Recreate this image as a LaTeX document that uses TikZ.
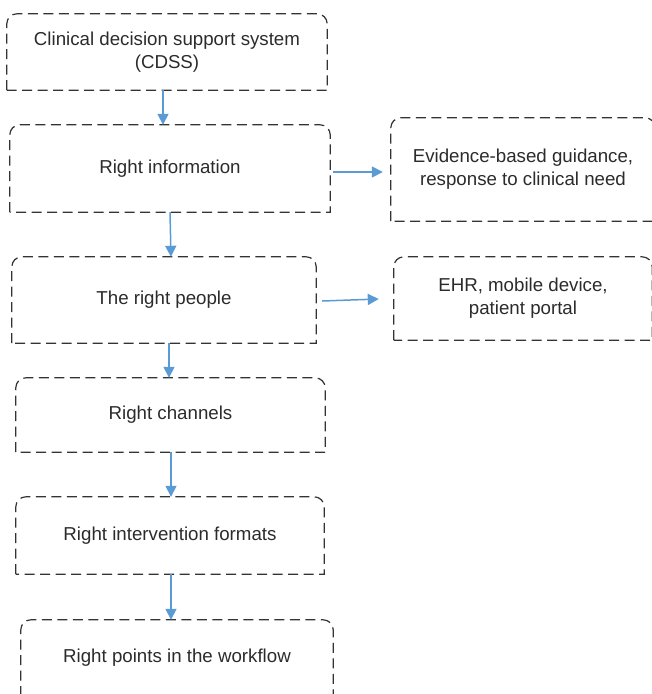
\documentclass[tikz,border=0pt]{standalone}
\usepackage{fontspec}
\setmainfont{Liberation Sans}
\usetikzlibrary{arrows.meta,calc}
\definecolor{txt}{HTML}{2B2B2B}
\definecolor{edge}{HTML}{333333}
\definecolor{arrowblue}{HTML}{5B9BD5}
\tikzset{
  boxnode/.style={rectangle, inner sep=0pt, align=center, text=txt,
    font=\fontsize{18.7}{23}\selectfont},
  boxline/.style={draw=edge, line width=1.2pt, dash pattern=on 10pt off 5.5pt},
  arr/.style={draw=arrowblue, line width=1.5pt,
    -{Triangle[length=11pt,width=11pt]}},
}
\newcommand{\topround}[1]{%
  \draw[boxline] (#1.south west) -- ([yshift=-10pt]#1.north west)
    arc[start angle=180,end angle=90,radius=10pt]
    -- ([xshift=-10pt]#1.north east)
    arc[start angle=90,end angle=0,radius=10pt]
    -- (#1.south east) -- cycle;}
\begin{document}
\begin{tikzpicture}[x=1pt,y=-1pt]
\useasboundingbox (0,0) rectangle (652,694);
\node[boxnode, minimum width=320pt, minimum height=76pt] (b1) at (167,52)
  {Clinical decision support system\\(CDSS)};
\node[boxnode, minimum width=320pt, minimum height=87pt] (b2) at (170,168.5)
  {Right information};
\node[boxnode, minimum width=304pt, minimum height=86pt] (b3) at (164,300)
  {The right people};
\node[boxnode, minimum width=309pt, minimum height=74pt] (b4) at (170.5,415)
  {Right channels};
\node[boxnode, minimum width=308pt, minimum height=77pt] (b5) at (170,535.5)
  {Right intervention formats};
\node[boxnode, minimum width=312pt, minimum height=76pt] (b6) at (177,658)
  {Right points in the workflow};
\node[boxnode, minimum width=264pt, minimum height=103pt] (e1) at (523,169.5)
  {Evidence-based guidance,\\response to clinical need};
\node[boxnode, minimum width=258pt, minimum height=83pt] (e2) at (523,298.5)
  {EHR, mobile device,\\patient portal};
\foreach \n in {b1,b2,b3,b4,b5,b6,e1,e2} {\topround{\n}}
\draw[arr] (163,0 |- b1.south) -- (163,0 |- b2.north);
\draw[arr] (170,0 |- b2.south) -- (171,0 |- b3.north);
\draw[arr] (169,0 |- b3.south) -- (169,0 |- b4.north);
\draw[arr] (171,0 |- b4.south) -- (171,0 |- b5.north);
\draw[arr] (171,0 |- b5.south) -- (171,0 |- b6.north);
\draw[arr] (b2.east |- 0,172) ++(3,0) -- ([xshift=-8pt]e1.west |- 0,172);
\draw[arr] (b3.east |- 0,301) ++(6,0) -- ([xshift=-15pt]e2.west |- 0,299);
\end{tikzpicture}
\end{document}
